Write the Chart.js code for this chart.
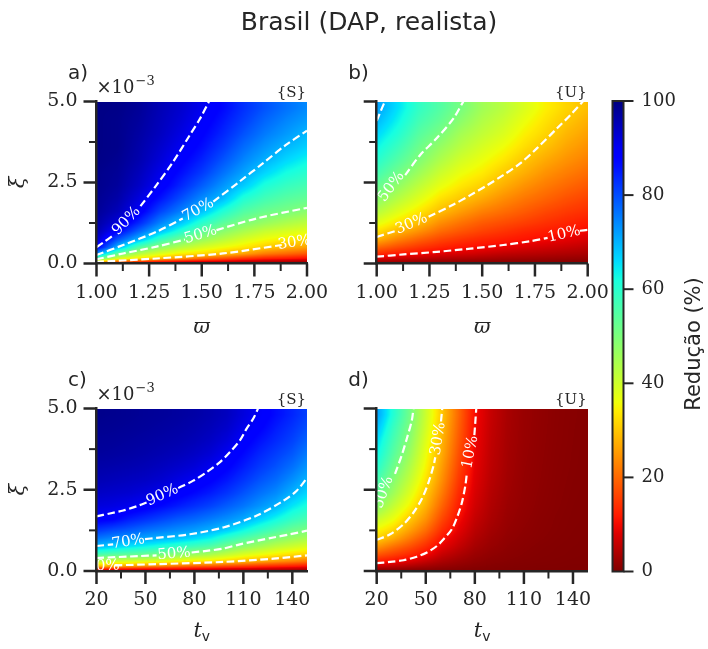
<!DOCTYPE html>
<html>
<head>
<meta charset="utf-8">
<script src="https://cdn.jsdelivr.net/npm/chart.js@4.4.1/dist/chart.umd.min.js"></script>
<style>
html,body{margin:0;padding:0;background:#ffffff;}
#wrap{position:relative;width:708px;height:649px;overflow:hidden;background:#ffffff;}
#wrap canvas{position:absolute;left:0;top:0;}
</style>
</head>
<body>
<div id="wrap">
<canvas id="panelA" width="708" height="649"></canvas>
<canvas id="panelB" width="708" height="649"></canvas>
<canvas id="panelC" width="708" height="649"></canvas>
<canvas id="panelD" width="708" height="649"></canvas>
<canvas id="colorbar" width="708" height="649"></canvas>
</div>
<script>
// ---------------- DATA ----------------
const titleText = 'Brasil (DAP, realista)';
const colorbarLabel = 'Redução (%)';

// grid coordinates (cell centres)
const omegaValues = [1.0, 1.1, 1.2, 1.3, 1.4, 1.5, 1.6, 1.7, 1.8, 1.9, 2.0];
const tvValues = [20, 30, 40, 50, 60, 70, 80, 90, 100, 110, 120, 130, 140, 150];
const xiValues = [0.05, 0.15, 0.3, 0.5, 0.75, 1.0, 1.25, 1.6, 2.0, 2.4, 2.8, 3.2, 3.6, 4.0, 4.4, 4.8]; // x 1e-3

// tick labels
const omegaTicks = [1.0, 1.25, 1.5, 1.75, 2.0];
const tvTicks = [20, 50, 80, 110, 140];
const xiTicks = [0, 2.5, 5.0];
const colorbarTicks = [0, 20, 40, 60, 80, 100];

// reduction (%) -- one inner array per column, values going up in xi
const reducaoS_omega = [
  [30, 53, 73, 89, 94, 96, 97, 98, 98.5, 99, 99, 99.5, 99.5, 99.5, 99.5, 99.5],
  [18, 38, 53, 70, 80, 88, 92, 95, 96.5, 97.5, 98, 98.5, 99, 99, 99, 99.3],
  [13, 33, 43, 55, 70, 78, 84, 89.5, 92, 94, 95, 96, 96.5, 97, 97.5, 98],
  [10, 29, 38, 48, 59, 69, 75, 81, 86, 89.5, 91, 92.5, 93.5, 94.5, 95, 95.5],
  [8, 24, 34, 43, 52, 61, 68, 75, 80, 84, 86.5, 88.5, 90.3, 91.5, 92.5, 93.3],
  [7, 20, 32, 39, 47, 54, 60, 68.5, 74, 78.5, 82, 84.5, 86.5, 88, 89.4, 90.5],
  [6, 17, 29.5, 36, 43, 48.5, 54, 61, 69, 73, 76.5, 79.5, 82, 84, 85.5, 87],
  [5, 14, 26, 33.5, 39, 44.5, 49.5, 55, 61, 67.5, 71.5, 74.5, 77, 79.5, 81.5, 83],
  [4, 12, 22, 30.5, 36, 41, 46.5, 52, 57, 61.5, 66.5, 70.3, 73, 75.5, 77.5, 79.5],
  [4, 11, 20, 28, 34, 39, 44, 50.3, 54.5, 58.5, 62.5, 66.5, 69.7, 72.5, 74.5, 76.5],
  [3, 10, 18, 26, 32.5, 37.5, 42, 48, 53, 56.5, 60, 63.5, 67, 69.5, 72, 74]
];
const reducaoU_omega = [
  [3, 7.5, 13.5, 20, 28, 33, 37.5, 43, 48.5, 53, 57, 60.5, 63.5, 66.5, 69.5, 72],
  [2.5, 6.5, 11.5, 17, 23, 28.5, 33, 38, 43, 47.5, 51.5, 55, 58, 61, 63.5, 65.5],
  [2, 5.5, 10.2, 14.5, 19.5, 24.5, 29, 33.5, 38, 42, 46, 49.5, 52, 54.5, 57, 59],
  [1.7, 4.5, 8.3, 12.5, 16.5, 20.5, 24, 29, 33, 37, 40.5, 44, 47, 50.3, 53, 55],
  [1.5, 4, 7.5, 11, 14.5, 18, 21, 25.5, 30, 33.5, 36.5, 39.5, 42.5, 45, 48, 50.5],
  [1.3, 3.5, 6.5, 10, 13, 16, 18.5, 22.5, 27, 31, 34, 36.5, 39, 41.5, 43.5, 45.5],
  [1.1, 3, 5.5, 9, 12, 14.5, 17, 20.5, 24, 27.5, 30.5, 33.5, 36, 38.5, 40.5, 42.5],
  [1, 2.7, 5, 7.8, 11, 13, 15.5, 18.5, 21.5, 24.5, 27.5, 30, 32.5, 34.5, 36.5, 38.5],
  [0.8, 2.4, 4.5, 7, 10, 12, 14, 16.5, 19.5, 22, 24.5, 27, 29.5, 31.5, 33, 34.5],
  [0.7, 2.1, 4, 6.2, 8.8, 11, 12.8, 15, 17.5, 20, 22.3, 24.5, 26.5, 28.3, 30, 31.5],
  [0.6, 1.8, 3.5, 5.3, 7.7, 9.8, 11.5, 13.8, 16, 18.3, 20.5, 22.5, 24.3, 26, 27.6, 29.2]
];
const reducaoS_tv = [
  [11, 30, 42, 56, 69, 76, 82, 89, 92, 94, 95.5, 96.5, 97.5, 98, 98.5, 99],
  [10, 27, 40, 54, 67, 74, 80, 88, 91.5, 93.5, 95, 96.2, 97.2, 97.8, 98.3, 98.7],
  [9.5, 26, 39, 53, 65, 72.5, 78.5, 85, 90.5, 93, 94.5, 95.8, 96.8, 97.4, 98, 98.4],
  [9, 24, 38, 52, 63, 71, 76.5, 83, 89, 92, 94, 95.3, 96.3, 97, 97.6, 98],
  [8.5, 23, 37, 50, 61, 69.5, 75, 81, 87, 90.5, 93, 94.5, 95.7, 96.5, 97.2, 97.7],
  [8, 21, 35, 48, 59, 68, 73.5, 79, 85, 89, 91.5, 93.5, 95, 96, 96.7, 97.3],
  [7.5, 19, 34, 46, 57, 66, 72, 77.5, 83, 87, 90, 92.3, 94, 95.2, 96, 96.7],
  [7, 18.5, 33, 44, 55, 63.5, 70, 75.5, 81, 85, 88, 90.3, 92.5, 94, 95, 95.8],
  [6.5, 17, 31, 41, 51, 59, 67, 73.5, 78.5, 82.5, 85.5, 88, 90, 92, 93.5, 94.5],
  [6, 15.5, 29, 38, 48, 55.5, 63, 71, 76, 79.5, 82.5, 85, 87, 89, 90.7, 92],
  [5.5, 14, 27, 36, 45, 52, 59, 67, 73, 76.5, 79.5, 82, 84, 86, 88, 89.5],
  [5, 13, 25, 34, 42, 49, 55.5, 63, 70, 74, 77, 79.5, 81.5, 83.5, 85, 86.5],
  [4.5, 12, 23, 32, 40, 46.5, 52, 59, 65, 70, 73.5, 76.5, 79, 81, 82.5, 84],
  [4, 11, 21, 30.5, 38, 44.5, 50, 56, 61.5, 66, 69.5, 72.5, 75, 77.5, 79.5, 81]
];
const reducaoU_tv = [
  [2, 6.5, 12, 18, 25, 31, 35, 41, 48.5, 53, 57, 60.5, 63.5, 66, 69, 72],
  [1.8, 5.5, 10.5, 15.5, 21, 27, 31.5, 36.5, 41.5, 46, 49, 52, 54.5, 56.5, 58.5, 61],
  [1.3, 4.2, 8.3, 13, 17.5, 22, 26, 30.5, 35, 38.5, 41.5, 44, 46.5, 48.5, 50, 51.5],
  [1, 3, 6, 10, 13.5, 17, 20.5, 24.5, 28, 30.5, 33, 35, 36.5, 38, 39.5, 40.5],
  [0.7, 2, 3.8, 6, 8.8, 11, 13.5, 16.5, 19.5, 22, 24, 25.5, 27, 28, 29, 30],
  [0.5, 1.3, 2.5, 4, 5.8, 7.3, 8.7, 10.3, 12, 13.5, 15, 16.3, 17.5, 18.5, 19.3, 20],
  [0.3, 0.8, 1.5, 2.3, 3.3, 4.2, 5, 6, 7, 7.7, 8.3, 8.8, 9.3, 9.7, 10, 10.3],
  [0.2, 0.5, 0.9, 1.4, 2, 2.5, 3, 3.6, 4.1, 4.5, 4.9, 5.2, 5.4, 5.6, 5.8, 6],
  [0.1, 0.3, 0.6, 0.9, 1.2, 1.5, 1.8, 2.1, 2.4, 2.7, 2.9, 3.1, 3.2, 3.3, 3.4, 3.5],
  [0.1, 0.2, 0.4, 0.6, 0.8, 1, 1.2, 1.4, 1.6, 1.7, 1.8, 1.9, 2, 2.1, 2.15, 2.2],
  [0, 0.1, 0.3, 0.4, 0.5, 0.7, 0.8, 0.9, 1.05, 1.15, 1.25, 1.3, 1.35, 1.4, 1.45, 1.5],
  [0, 0.1, 0.2, 0.3, 0.35, 0.45, 0.55, 0.6, 0.7, 0.75, 0.8, 0.85, 0.9, 0.95, 0.97, 1],
  [0, 0, 0.1, 0.2, 0.25, 0.3, 0.35, 0.4, 0.45, 0.5, 0.55, 0.6, 0.62, 0.65, 0.67, 0.7],
  [0, 0, 0.1, 0.1, 0.2, 0.2, 0.25, 0.3, 0.3, 0.35, 0.4, 0.4, 0.42, 0.45, 0.47, 0.5]
];

// contour lines ([x, xi]); null = break where the label sits
const contA90 = [[1.0,0.50],[1.035,0.66],[1.075,0.85],null,[1.209,1.77],[1.285,2.42],[1.364,3.14],[1.444,3.97],[1.49,4.45],[1.536,5.02]];
const contA70 = [[1.0,0.26],[1.127,0.57],[1.285,0.98],[1.41,1.39],null,[1.555,1.91],[1.68,2.53],[1.79,3.09],[1.90,3.66],[2.0,4.10]];
const contA50 = [[1.0,0.13],[1.127,0.31],[1.285,0.52],[1.42,0.74],null,[1.57,1.03],[1.76,1.39],[2.0,1.72]];
const contA30 = [[1.0,0.05],[1.285,0.155],[1.6,0.31],[1.88,0.57],null];
const contB70 = [[1.0,4.40],[1.02,4.72],[1.04,5.02]];
const contB50 = [null,[1.135,2.73],[1.206,3.35],[1.285,3.87],[1.364,4.48],[1.412,5.02]];
const contB30 = [[1.0,0.82],[1.087,1.0],null,[1.246,1.44],[1.364,1.82],[1.444,2.11],[1.52,2.40],[1.60,2.73],[1.68,3.09],[1.76,3.56],[1.856,4.18],[1.919,4.59],[1.98,5.02]];
const contB10 = [[1.0,0.21],[1.127,0.28],[1.285,0.36],[1.444,0.46],[1.60,0.57],[1.73,0.69],[1.81,0.79],null,[1.963,1.01],[2.0,1.04]];
const contC90 = [[20,1.68],[28.2,1.77],[36.4,1.86],[44.5,1.99],[50.7,2.11],null,[70.1,2.55],[79.3,2.78],[87.5,3.04],[95.7,3.35],[101.8,3.66],[107.9,4.02],[112,4.38],[116.1,4.69],[119.2,5.02]];
const contC70 = [[20,0.77],[30.2,0.82],null,[49.7,0.98],[56.8,1.02],[77.3,1.13],[97.7,1.34],[118,1.70],[134.5,2.16],[142.7,2.47],[149,2.86]];
const contC50 = [[20,0.40],[46.6,0.46],[56.8,0.48],null,[78.3,0.57],[87.5,0.62],[97.7,0.69],[107.9,0.82],[128.4,1.03],[138.6,1.13],[149,1.24]];
const contC30 = [null,[31.2,0.175],[56.8,0.21],[97.7,0.28],[128.4,0.38],[149,0.48]];
const contD10 = [[20,0.24],[28.2,0.28],[36.4,0.33],[44.5,0.44],[50.7,0.57],[56.8,0.77],[60.9,0.98],[66,1.29],[69.5,1.70],[72.1,2.11],[74.2,2.63],[75.2,3.04],null,[79.7,4.18],[80.3,4.59],[80.9,5.02]];
const contD30 = [[20,0.96],[28.2,1.13],[36.4,1.44],[42.5,1.80],[47.6,2.22],[51.7,2.73],[54.8,3.25],[55.8,3.5],null,[59.3,4.6],[60.1,5.02]];
const contD50 = [null,[31.2,2.99],[35.3,3.56],[38.4,4.07],[41.5,4.64],[42.5,5.02]];

// contour label positions ([x, xi])
const labA90 = [1.142, 1.31], labA70 = [1.483, 1.65], labA50 = [1.495, 0.885], labA30 = [1.94, 0.64];
const labB50 = [1.07, 2.37], labB30 = [1.165, 1.22], labB10 = [1.888, 0.90];
const labC90 = [60.4, 2.33], labC70 = [39.5, 0.90], labC50 = [67.5, 0.52], labC30 = [24, 0.15];
const labD10 = [77.3, 3.66], labD30 = [57.6, 4.07], labD50 = [24.1, 2.42];

// ---------------- RENDERING ----------------
const W = 708, H = 649;
const AX = '#262626';
const SERIF = '"DejaVu Serif", "Liberation Serif", serif';
const SANS = '"DejaVu Sans", "Liberation Sans", sans-serif';

// matplotlib "jet" segments, used reversed (100 -> dark blue, 0 -> dark red)
const JET_R = [[0,0],[0.35,0],[0.66,1],[0.89,1],[1,0.5]];
const JET_G = [[0,0],[0.125,0],[0.375,1],[0.64,1],[0.91,0],[1,0]];
const JET_B = [[0,0.5],[0.11,1],[0.34,1],[0.65,0],[1,0]];
function segInterp(pts, t) {
  for (let k = 1; k < pts.length; k++) {
    if (t <= pts[k][0]) {
      const [x0, y0] = pts[k-1], [x1, y1] = pts[k];
      return y0 + (y1 - y0) * (t - x0) / (x1 - x0);
    }
  }
  return pts[pts.length-1][1];
}
function jetRgb(v) {
  const t = 1 - Math.max(0, Math.min(100, v)) / 100;
  return [Math.round(segInterp(JET_R, t)*255), Math.round(segInterp(JET_G, t)*255), Math.round(segInterp(JET_B, t)*255)];
}
function jetR(v) { const c = jetRgb(v); return 'rgb(' + c[0] + ',' + c[1] + ',' + c[2] + ')'; }
const LUT = [];
for (let k = 0; k <= 1000; k++) LUT.push(jetRgb(k / 10));

function mids(t) { const m = []; for (let i = 0; i < t.length - 1; i++) m.push((t[i] + t[i+1]) / 2); return m; }
function locate(arr, v) {
  const n = arr.length;
  if (v <= arr[0]) return [0, 0];
  if (v >= arr[n-1]) return [n-2, 1];
  let k = 0;
  while (arr[k+1] < v) k++;
  return [k, (v - arr[k]) / (arr[k+1] - arr[k])];
}

// heat map: each grid value is placed at its (x, xi) node through the chart scales,
// the colour is shaded smoothly between neighbouring nodes (gouraud-like shading)
function drawHeat(chart, cols, rows, z) {
  const {ctx, chartArea: a, scales: {x, y}} = chart;
  const L = Math.round(a.left), T = Math.round(a.top), R = Math.round(a.right), B = Math.round(a.bottom);
  const w = R - L, h = B - T;
  const img = ctx.createImageData(w, h);
  const cx = [], cy = [];
  for (let i = 0; i < w; i++) cx.push(locate(cols, x.getValueForPixel(L + i + 0.5)));
  for (let j = 0; j < h; j++) cy.push(locate(rows, y.getValueForPixel(T + j + 0.5)));
  for (let j = 0; j < h; j++) {
    const [r0, fy] = cy[j];
    for (let i = 0; i < w; i++) {
      const [c0, fx] = cx[i];
      const v = (1-fx)*(1-fy)*z[c0][r0] + fx*(1-fy)*z[c0+1][r0] + (1-fx)*fy*z[c0][r0+1] + fx*fy*z[c0+1][r0+1];
      const col = LUT[Math.max(0, Math.min(1000, Math.round(v * 10)))];
      const o = (j * w + i) * 4;
      img.data[o] = col[0]; img.data[o+1] = col[1]; img.data[o+2] = col[2]; img.data[o+3] = 255;
    }
  }
  ctx.putImageData(img, L, T);
}

function segmentsOf(c) {
  const segs = []; let cur = [];
  c.forEach(p => { if (p === null) { if (cur.length) segs.push(cur); cur = []; } else cur.push(p); });
  if (cur.length) segs.push(cur);
  return segs;
}
function labelAngle(chart, c) {
  const xs = chart.scales.x, ys = chart.scales.y;
  const i = c.indexOf(null);
  let p, q;
  if (i === 0) { p = c[1]; q = c[2]; }
  else if (i === c.length - 1) { p = c[i-2]; q = c[i-1]; }
  else { p = c[i-1]; q = c[i+1]; }
  const dx = xs.getPixelForValue(q[0]) - xs.getPixelForValue(p[0]);
  const dy = ys.getPixelForValue(q[1]) - ys.getPixelForValue(p[1]);
  let ang = Math.atan2(dy, dx);
  if (ang > Math.PI / 2) ang -= Math.PI;
  if (ang < -Math.PI / 2) ang += Math.PI;
  return ang;
}
function line(ctx, x0, y0, x1, y1) { ctx.beginPath(); ctx.moveTo(x0, y0); ctx.lineTo(x1, y1); ctx.stroke(); }

function buildPanel(canvasId, cfg) {
  const yW = 60, xH = 50;
  const a = cfg.area;
  const datasets = [];
  cfg.contours.forEach(c => segmentsOf(c).forEach(seg => datasets.push({
    data: seg.map(p => ({x: p[0], y: p[1]})),
    showLine: true, fill: false, borderColor: '#ffffff', borderWidth: 2.2,
    borderDash: [7.6, 3.6], pointRadius: 0, tension: 0.3, clip: 0
  })));
  const panelPlugin = {
    id: 'panel_' + canvasId,
    beforeDatasetsDraw(chart) { drawHeat(chart, cfg.cols, xiValues, cfg.z); },
    afterDatasetsDraw(chart) {
      const {ctx, chartArea: ca, scales: {x, y}} = chart;
      ctx.save();
      ctx.beginPath(); ctx.rect(ca.left, ca.top, ca.right - ca.left, ca.bottom - ca.top); ctx.clip();
      ctx.fillStyle = '#ffffff';
      ctx.font = '15px ' + SERIF;
      ctx.textAlign = 'center'; ctx.textBaseline = 'middle';
      cfg.labels.forEach(([c, pos, txt]) => {
        const ang = labelAngle(chart, c);
        ctx.save();
        ctx.translate(x.getPixelForValue(pos[0]), y.getPixelForValue(pos[1]));
        ctx.rotate(ang);
        ctx.fillText(txt, 0, 0);
        ctx.restore();
      });
      ctx.restore();
    },
    afterDraw(chart) {
      const {ctx, chartArea: ca, scales: {x, y}} = chart;
      ctx.save();
      ctx.strokeStyle = AX; ctx.lineCap = 'butt';
      ctx.lineWidth = 2.5;
      cfg.xTicks.forEach(v => { const p = x.getPixelForValue(v); line(ctx, p, ca.bottom, p, ca.bottom + 13); });
      xiTicks.forEach(v => { const p = y.getPixelForValue(v); line(ctx, ca.left, p, ca.left - 13, p); });
      ctx.lineWidth = 2;
      mids(cfg.xTicks).forEach(v => { const p = x.getPixelForValue(v); line(ctx, p, ca.bottom, p, ca.bottom + 7.5); });
      mids(xiTicks).forEach(v => { const p = y.getPixelForValue(v); line(ctx, ca.left, p, ca.left - 7.5, p); });
      // texts
      ctx.fillStyle = AX;
      ctx.textBaseline = 'alphabetic';
      ctx.textAlign = 'left';
      ctx.font = '20px ' + SANS;
      ctx.fillText(cfg.letter, ca.left - 28.5, ca.top - 22.5);
      if (cfg.showExp) {
        ctx.font = '18px ' + SERIF;
        ctx.fillText('×10', ca.left, ca.top - 8.5);
        const w = ctx.measureText('×10').width;
        ctx.font = '13px ' + SERIF;
        ctx.fillText('−3', ca.left + w + 1, ca.top - 16.5);
      }
      ctx.textAlign = 'right';
      ctx.font = '15px ' + SERIF;
      ctx.fillText(cfg.tag, ca.right - 1, ca.top - 4.5);
      const cx = (ca.left + ca.right) / 2;
      if (cfg.xTitle === 'omega') {
        ctx.textAlign = 'center';
        ctx.font = 'italic 20px ' + SERIF;
        ctx.fillText('ϖ', cx, ca.bottom + 69);
      } else {
        ctx.textAlign = 'left';
        ctx.font = 'italic 21px ' + SERIF;
        const wt = ctx.measureText('t').width;
        ctx.font = '14px ' + SANS;
        const wv = ctx.measureText('v').width;
        const x0 = cx - (wt + wv) / 2;
        ctx.font = 'italic 21px ' + SERIF;
        ctx.fillText('t', x0, ca.bottom + 65.5);
        ctx.font = '14px ' + SANS;
        ctx.fillText('v', x0 + wt, ca.bottom + 70);
      }
      if (cfg.showYTitle) {
        ctx.save();
        ctx.translate(19, (ca.top + ca.bottom) / 2);
        ctx.rotate(-Math.PI / 2);
        ctx.textAlign = 'center'; ctx.textBaseline = 'middle';
        ctx.font = 'italic 21px ' + SERIF;
        ctx.fillText('ξ', 0, 0);
        ctx.restore();
      }
      ctx.restore();
    }
  };
  return new Chart(document.getElementById(canvasId), {
    type: 'scatter',
    data: {datasets},
    options: {
      responsive: false, animation: false, devicePixelRatio: 1, events: [],
      layout: {padding: {left: a.l - yW, right: W - a.r, top: a.t, bottom: H - a.b - xH}},
      plugins: {legend: {display: false}, tooltip: {enabled: false}, title: {display: false}},
      scales: {
        x: {
          type: 'linear', min: cfg.xMin, max: cfg.xMax,
          afterFit(s) { s.height = xH; },
          afterBuildTicks(s) { s.ticks = cfg.xTicks.map(v => ({value: v})); },
          grid: {display: false, drawTicks: false},
          border: {display: true, color: AX, width: 2.5, z: 1},
          ticks: {autoSkip: false, maxRotation: 0, minRotation: 0, padding: 18, color: AX,
                  font: {family: SERIF, size: 19}, callback: v => cfg.xFmt(v)}
        },
        y: {
          type: 'linear', min: 0, max: 5,
          afterFit(s) { s.width = yW; },
          afterBuildTicks(s) { s.ticks = xiTicks.map(v => ({value: v})); },
          grid: {display: false, drawTicks: false},
          border: {display: true, color: AX, width: 2.5, z: 1},
          ticks: {display: cfg.showYLabels, padding: 19, color: AX,
                  font: {family: SERIF, size: 19}, callback: v => v.toFixed(1)}
        }
      }
    },
    plugins: [panelPlugin]
  });
}

const fmtOmega = v => v.toFixed(2);
const fmtTv = v => String(v);

buildPanel('panelA', {
  area: {l: 96.5, r: 307, t: 101.5, b: 263.5}, xMin: 1.0, xMax: 2.0, xTicks: omegaTicks, xFmt: fmtOmega,
  showYLabels: true, cols: omegaValues, z: reducaoS_omega,
  contours: [contA90, contA70, contA50, contA30],
  labels: [[contA90, labA90, '90%'], [contA70, labA70, '70%'], [contA50, labA50, '50%'], [contA30, labA30, '30%']],
  letter: 'a)', tag: '{S}', showExp: true, xTitle: 'omega', showYTitle: true
});
buildPanel('panelB', {
  area: {l: 376.7, r: 587.7, t: 101.5, b: 263.5}, xMin: 1.0, xMax: 2.0, xTicks: omegaTicks, xFmt: fmtOmega,
  showYLabels: false, cols: omegaValues, z: reducaoU_omega,
  contours: [contB70, contB50, contB30, contB10],
  labels: [[contB50, labB50, '50%'], [contB30, labB30, '30%'], [contB10, labB10, '10%']],
  letter: 'b)', tag: '{U}', showExp: false, xTitle: 'omega', showYTitle: false
});
buildPanel('panelC', {
  area: {l: 96.5, r: 307, t: 408.5, b: 571}, xMin: 20, xMax: 149, xTicks: tvTicks, xFmt: fmtTv,
  showYLabels: true, cols: tvValues, z: reducaoS_tv,
  contours: [contC90, contC70, contC50, contC30],
  labels: [[contC90, labC90, '90%'], [contC70, labC70, '70%'], [contC50, labC50, '50%'], [contC30, labC30, '30%']],
  letter: 'c)', tag: '{S}', showExp: true, xTitle: 'tv', showYTitle: true
});
buildPanel('panelD', {
  area: {l: 376.7, r: 587.7, t: 408.5, b: 571}, xMin: 20, xMax: 149, xTicks: tvTicks, xFmt: fmtTv,
  showYLabels: false, cols: tvValues, z: reducaoU_tv,
  contours: [contD10, contD30, contD50],
  labels: [[contD10, labD10, '10%'], [contD30, labD30, '30%'], [contD50, labD50, '50%']],
  letter: 'd)', tag: '{U}', showExp: false, xTitle: 'tv', showYTitle: false
});

// colour bar + figure title
const cbArea = {l: 612.5, r: 623.5, t: 101, b: 571.5};
const colorbarPlugin = {
  id: 'colorbarPlugin',
  beforeDatasetsDraw(chart) {
    const {ctx, chartArea: ca, scales: {y}} = chart;
    const y0 = y.getPixelForValue(0), y1 = y.getPixelForValue(100);
    const grad = ctx.createLinearGradient(0, y0, 0, y1);
    for (let k = 0; k <= 100; k += 2) grad.addColorStop(k / 100, jetR(k));
    ctx.save();
    ctx.fillStyle = grad;
    ctx.fillRect(ca.left, y1, ca.right - ca.left, y0 - y1);
    ctx.restore();
  },
  afterDraw(chart) {
    const {ctx, chartArea: ca, scales: {y}} = chart;
    ctx.save();
    ctx.strokeStyle = AX; ctx.lineWidth = 2;
    ctx.strokeRect(ca.left, ca.top, ca.right - ca.left, ca.bottom - ca.top);
    colorbarTicks.forEach(v => { const p = y.getPixelForValue(v); line(ctx, ca.right, p, ca.right + 10, p); });
    ctx.fillStyle = AX;
    ctx.save();
    ctx.translate(700, 344);
    ctx.rotate(-Math.PI / 2);
    ctx.textAlign = 'center'; ctx.textBaseline = 'alphabetic';
    ctx.font = '21px ' + SANS;
    ctx.fillText(colorbarLabel, 0, 0);
    ctx.restore();
    ctx.textAlign = 'center'; ctx.textBaseline = 'alphabetic';
    ctx.font = '25px ' + SANS;
    ctx.fillText(titleText, 369, 29.5);
    ctx.restore();
  }
};
new Chart(document.getElementById('colorbar'), {
  type: 'scatter',
  data: {datasets: []},
  options: {
    responsive: false, animation: false, devicePixelRatio: 1, events: [],
    layout: {padding: {left: cbArea.l, right: W - cbArea.r - 60, top: cbArea.t, bottom: H - cbArea.b}},
    plugins: {legend: {display: false}, tooltip: {enabled: false}},
    scales: {
      x: {display: false, min: 0, max: 1},
      y: {
        position: 'right', min: 0, max: 100,
        afterFit(s) { s.width = 60; },
        afterBuildTicks(s) { s.ticks = colorbarTicks.map(v => ({value: v})); },
        grid: {display: false, drawTicks: false},
        border: {display: false},
        ticks: {padding: 18, color: AX, font: {family: SERIF, size: 18}}
      }
    }
  },
  plugins: [colorbarPlugin]
});
</script>
</body>
</html>
